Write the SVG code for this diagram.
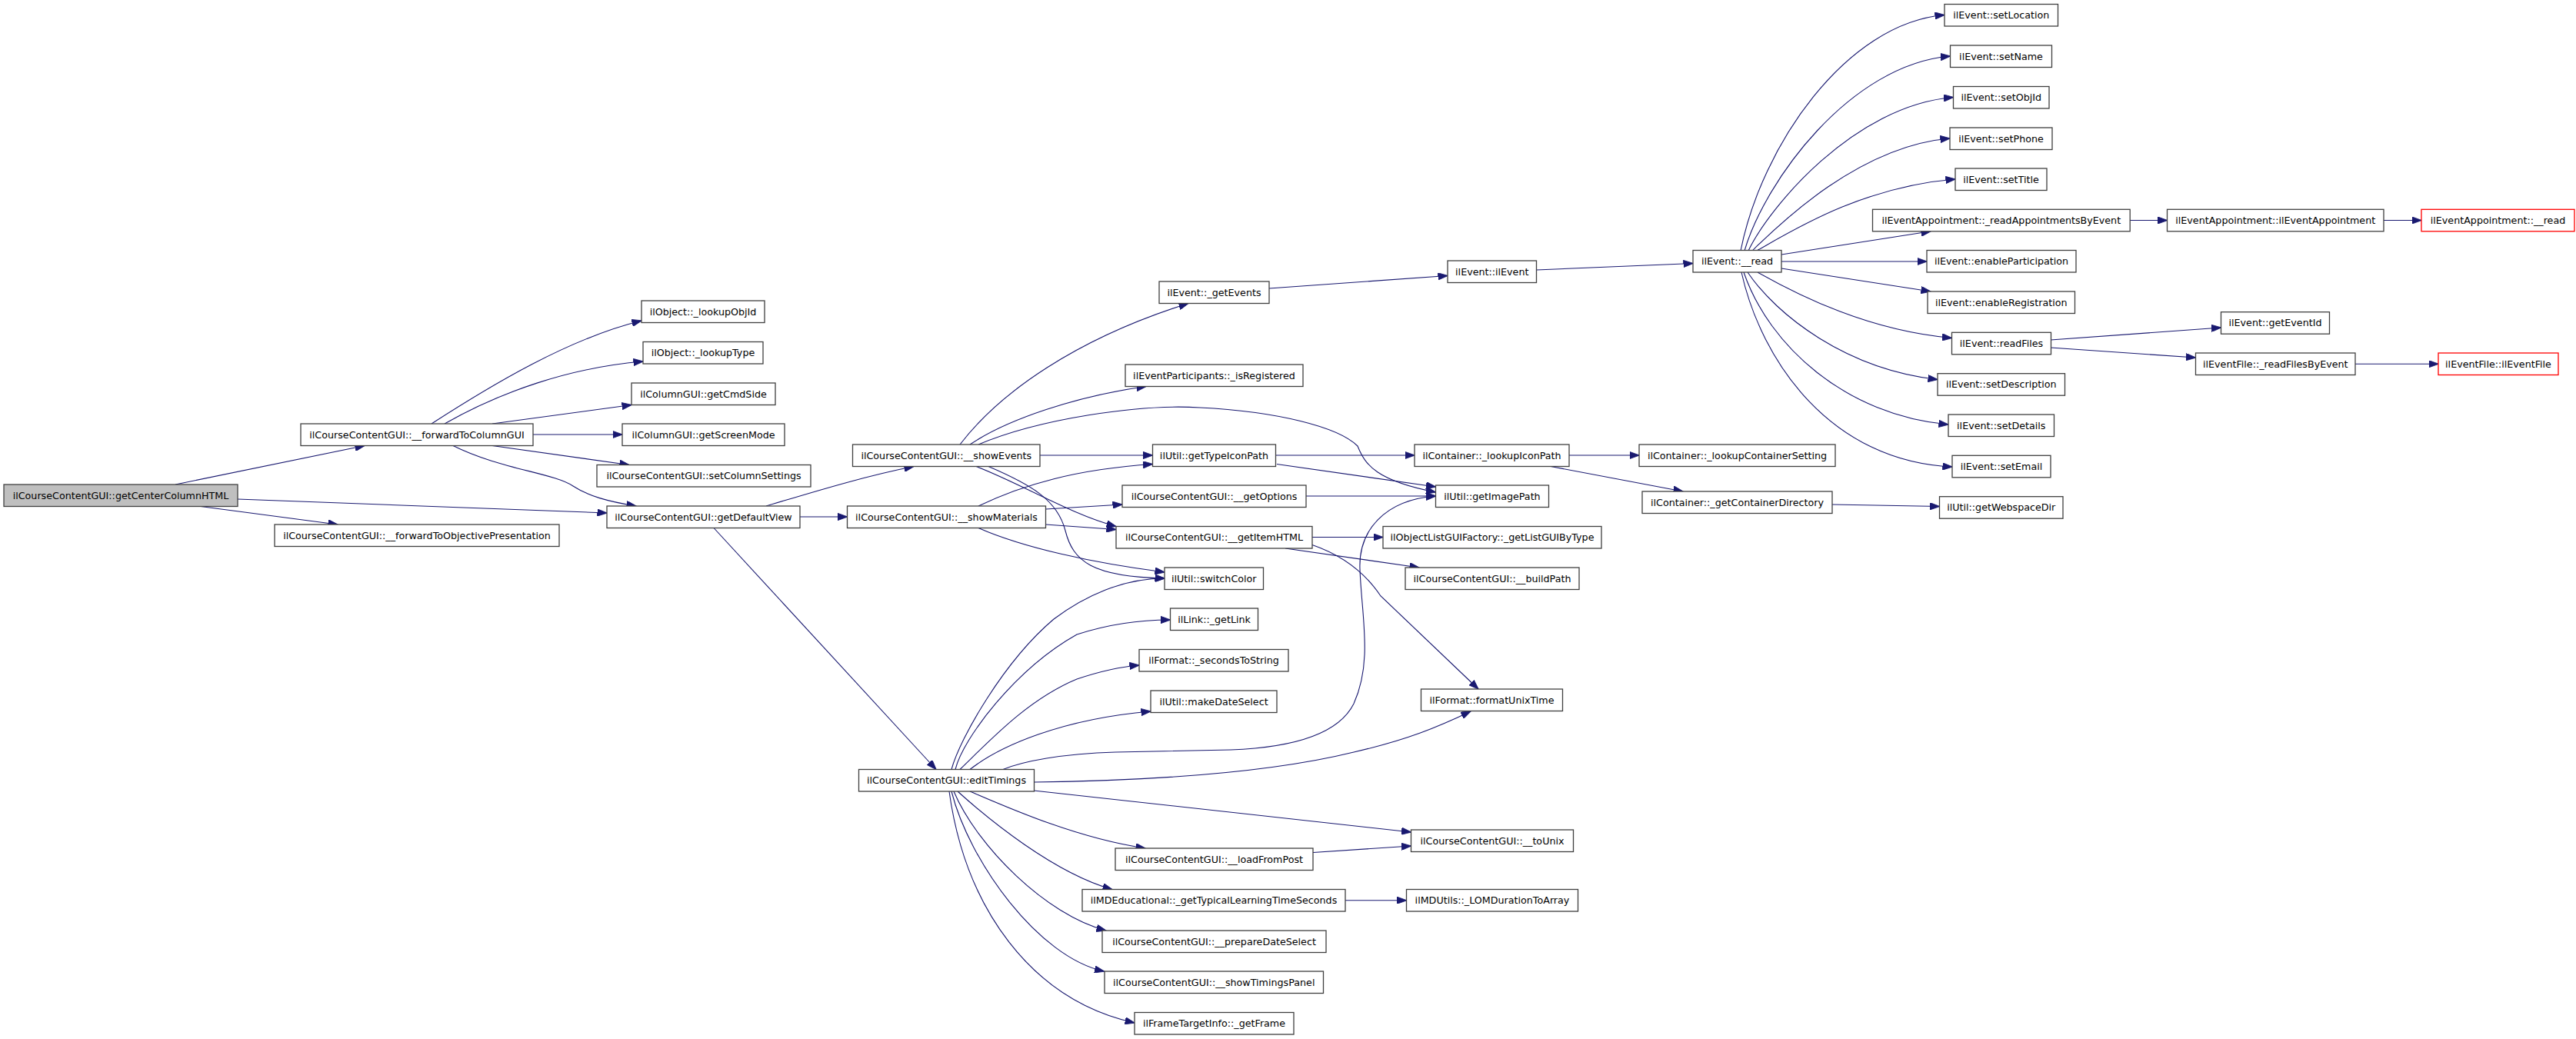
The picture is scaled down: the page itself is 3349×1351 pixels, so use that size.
<svg xmlns="http://www.w3.org/2000/svg" width="3349" height="1351" viewBox="0 0 3349 1351">
<defs>
<style>
.node rect{fill:#ffffff;stroke:#404040;stroke-width:1.3}
.node.root rect{fill:#bfbfbf}
.node.red rect{stroke:#ff0000}
.node text{font-family:"DejaVu Sans","Liberation Sans",sans-serif;font-size:12.7px;text-anchor:middle;fill:#000000}
.edges path{fill:none;stroke:#191970;stroke-width:1.1;marker-end:url(#arr)}
</style>
<marker id="arr" viewBox="0 0 13 9.4" refX="12.5" refY="4.7" markerWidth="13" markerHeight="9.4" markerUnits="userSpaceOnUse" orient="auto">
<path d="M0,0 L13,4.7 L0,9.4 Z" fill="#191970" stroke="#191970" stroke-width="0.8"/>
</marker>
</defs>
<rect width="3349" height="1351" fill="#ffffff"/>
<g id="edges" class="edges">
<path d="M228,630 L474,579.5"/>
<path d="M309,649 L789,667"/>
<path d="M261,658.5 L439,682"/>
<path d="M561,551 C640,500 740,440 834,417"/>
<path d="M578,551 C650,510 740,478 836,470"/>
<path d="M640,551 L821,526.5"/>
<path d="M693,565 L809,565"/>
<path d="M640,579.5 L818,604.5"/>
<path d="M589,579.5 C650,610 720,615 745,632 C765,645 790,652 827,658"/>
<path d="M996,658 C1050,642 1120,620 1188,606.5"/>
<path d="M1040,672 L1101.5,672"/>
<path d="M928,686.5 L1217,1000.5"/>
<path d="M1248,578 C1300,510 1400,440 1545,394.5"/>
<path d="M1261,578 C1310,545 1400,515 1490,502.5"/>
<path d="M1272,578 C1350,545 1480,525 1560,530 C1660,535 1740,555 1765,580 C1775,605 1790,625 1866.5,640"/>
<path d="M1352,592 L1498.5,592"/>
<path d="M1269,606.5 C1330,630 1390,668 1451,684.5"/>
<path d="M1285,606.5 C1340,630 1375,650 1385,690 C1395,730 1420,750 1514,752"/>
<path d="M1272,658 C1330,630 1400,610 1498.5,603.5"/>
<path d="M1359.5,662 L1459,656"/>
<path d="M1359.5,682 L1451,688.5"/>
<path d="M1272,686.5 C1330,712 1420,732 1514,744"/>
<path d="M1658.5,592 L1839,592"/>
<path d="M1660,603.5 L1866.5,633"/>
<path d="M1698,645 L1866.5,645"/>
<path d="M1706,698.5 L1798,698.5"/>
<path d="M1671,713 L1845,738"/>
<path d="M1706,708.5 C1745,722 1775,745 1795,775 L1922,896"/>
<path d="M2040,592 L2131,592"/>
<path d="M2016,606.5 L2188,639"/>
<path d="M2382,656 L2521.5,658.5"/>
<path d="M1237,1000.5 C1248,960 1305,860 1370,805 C1410,775 1460,752 1514,752"/>
<path d="M1242,1000.5 C1252,960 1320,870 1400,825 C1440,812 1480,806 1521.5,806"/>
<path d="M1248,1000.5 C1285,965 1335,910 1400,883 C1430,873 1455,867 1481,865"/>
<path d="M1261,1000.5 C1300,970 1380,935 1496,925"/>
<path d="M1304,1000.5 C1330,990 1380,980 1450,978 L1600,975 C1680,972 1740,955 1760,915 C1785,860 1770,800 1768,740 C1766,690 1800,650 1866.5,645"/>
<path d="M1344,1017 C1500,1015 1650,1005 1760,978 C1830,962 1870,945 1912,925"/>
<path d="M1344,1028 L1834.5,1082"/>
<path d="M1261,1029 C1310,1050 1400,1090 1489,1103"/>
<path d="M1245,1029 C1285,1065 1370,1135 1446,1156.5"/>
<path d="M1240,1029 C1270,1100 1360,1190 1438,1210"/>
<path d="M1237,1029 C1260,1120 1350,1245 1435.5,1263"/>
<path d="M1234,1029 C1255,1180 1340,1300 1475,1330"/>
<path d="M1707,1108.5 L1834.5,1100"/>
<path d="M1749,1170.75 L1828.5,1170.75"/>
<path d="M1650,375 L1882,358.5"/>
<path d="M1997.5,351 L2201,342.5"/>
<path d="M2263,326 C2290,190 2400,30 2528,19.5"/>
<path d="M2268,326 C2295,235 2405,84 2535.5,73"/>
<path d="M2273,326 C2300,270 2410,137 2539.5,126.5"/>
<path d="M2278,326 C2310,295 2415,190 2535,180"/>
<path d="M2284,326 C2330,300 2420,243 2542,233"/>
<path d="M2316,331 L2510,300.8"/>
<path d="M2316,340 L2505,340"/>
<path d="M2316,349 L2510,379"/>
<path d="M2285,354 C2340,385 2430,430 2537.5,439.5"/>
<path d="M2272,354 C2310,410 2400,480 2519,493.5"/>
<path d="M2267,354 C2300,450 2400,540 2533,552"/>
<path d="M2264,354 C2290,470 2380,600 2538,607"/>
<path d="M2769,286.5 L2817.5,286.5"/>
<path d="M3099,286.5 L3148,286.5"/>
<path d="M2666,442 L2887.5,426"/>
<path d="M2666,452 L2854.5,465"/>
<path d="M3062,473.25 L3170,473.25"/>
</g>
<g id="n0" class="node root"><rect x="5" y="630" width="304" height="28.5"/><text x="157" y="648.75">ilCourseContentGUI::getCenterColumnHTML</text></g>
<g id="n1" class="node"><rect x="391" y="551" width="302" height="28.5"/><text x="542" y="569.75">ilCourseContentGUI::__forwardToColumnGUI</text></g>
<g id="n2" class="node"><rect x="357" y="682" width="370" height="28.5"/><text x="542" y="700.75">ilCourseContentGUI::__forwardToObjectivePresentation</text></g>
<g id="n3" class="node"><rect x="834" y="391" width="160" height="28.5"/><text x="914" y="409.75">ilObject::_lookupObjId</text></g>
<g id="n4" class="node"><rect x="836" y="444.5" width="156" height="28.5"/><text x="914" y="463.25">ilObject::_lookupType</text></g>
<g id="n5" class="node"><rect x="821" y="498" width="187" height="28.5"/><text x="914.5" y="516.75">ilColumnGUI::getCmdSide</text></g>
<g id="n6" class="node"><rect x="809" y="551" width="211" height="28.5"/><text x="914.5" y="569.75">ilColumnGUI::getScreenMode</text></g>
<g id="n7" class="node"><rect x="776" y="604.5" width="278" height="28.5"/><text x="915" y="623.25">ilCourseContentGUI::setColumnSettings</text></g>
<g id="n8" class="node"><rect x="789" y="658" width="251" height="28.5"/><text x="914.5" y="676.75">ilCourseContentGUI::getDefaultView</text></g>
<g id="n9" class="node"><rect x="1108.5" y="578" width="243.5" height="28.5"/><text x="1230.25" y="596.75">ilCourseContentGUI::__showEvents</text></g>
<g id="n10" class="node"><rect x="1101.5" y="658" width="258" height="28.5"/><text x="1230.5" y="676.75">ilCourseContentGUI::__showMaterials</text></g>
<g id="n11" class="node"><rect x="1116.5" y="1000.5" width="228" height="28.5"/><text x="1230.5" y="1019.25">ilCourseContentGUI::editTimings</text></g>
<g id="n12" class="node"><rect x="1507" y="366" width="143" height="28.5"/><text x="1578.5" y="384.75">ilEvent::_getEvents</text></g>
<g id="n13" class="node"><rect x="1463" y="474" width="231" height="28.5"/><text x="1578.5" y="492.75">ilEventParticipants::_isRegistered</text></g>
<g id="n14" class="node"><rect x="1498.5" y="578" width="160" height="28.5"/><text x="1578.5" y="596.75">ilUtil::getTypeIconPath</text></g>
<g id="n15" class="node"><rect x="1459" y="631" width="239" height="28.5"/><text x="1578.5" y="649.75">ilCourseContentGUI::__getOptions</text></g>
<g id="n16" class="node"><rect x="1451" y="684.5" width="255" height="28.5"/><text x="1578.5" y="703.25">ilCourseContentGUI::__getItemHTML</text></g>
<g id="n17" class="node"><rect x="1514" y="738" width="128.5" height="28.5"/><text x="1578.25" y="756.75">ilUtil::switchColor</text></g>
<g id="n18" class="node"><rect x="1521.5" y="791" width="114" height="28.5"/><text x="1578.5" y="809.75">ilLink::_getLink</text></g>
<g id="n19" class="node"><rect x="1481" y="844.5" width="194" height="28.5"/><text x="1578" y="863.25">ilFormat::_secondsToString</text></g>
<g id="n20" class="node"><rect x="1496" y="898" width="164" height="28.5"/><text x="1578" y="916.75">ilUtil::makeDateSelect</text></g>
<g id="n21" class="node"><rect x="1450" y="1103" width="257" height="28.5"/><text x="1578.5" y="1121.75">ilCourseContentGUI::__loadFromPost</text></g>
<g id="n22" class="node"><rect x="1407" y="1156.5" width="342" height="28.5"/><text x="1578" y="1175.25">ilMDEducational::_getTypicalLearningTimeSeconds</text></g>
<g id="n23" class="node"><rect x="1433" y="1210" width="291" height="28.5"/><text x="1578.5" y="1228.75">ilCourseContentGUI::__prepareDateSelect</text></g>
<g id="n24" class="node"><rect x="1436" y="1263" width="284.5" height="28.5"/><text x="1578.25" y="1281.75">ilCourseContentGUI::__showTimingsPanel</text></g>
<g id="n25" class="node"><rect x="1475" y="1316.5" width="207" height="28.5"/><text x="1578.5" y="1335.25">ilFrameTargetInfo::_getFrame</text></g>
<g id="n26" class="node"><rect x="1882" y="339" width="115.5" height="28.5"/><text x="1939.75" y="357.75">ilEvent::ilEvent</text></g>
<g id="n27" class="node"><rect x="1839" y="578" width="201" height="28.5"/><text x="1939.5" y="596.75">ilContainer::_lookupIconPath</text></g>
<g id="n28" class="node"><rect x="1866.5" y="631" width="147" height="28.5"/><text x="1940" y="649.75">ilUtil::getImagePath</text></g>
<g id="n29" class="node"><rect x="1798" y="684.5" width="284" height="28.5"/><text x="1940" y="703.25">ilObjectListGUIFactory::_getListGUIByType</text></g>
<g id="n30" class="node"><rect x="1827" y="738" width="226" height="28.5"/><text x="1940" y="756.75">ilCourseContentGUI::__buildPath</text></g>
<g id="n31" class="node"><rect x="1847.5" y="896" width="184" height="28.5"/><text x="1939.5" y="914.75">ilFormat::formatUnixTime</text></g>
<g id="n32" class="node"><rect x="1834.5" y="1079" width="211" height="28.5"/><text x="1940" y="1097.75">ilCourseContentGUI::__toUnix</text></g>
<g id="n33" class="node"><rect x="1828.5" y="1156.5" width="223" height="28.5"/><text x="1940" y="1175.25">ilMDUtils::_LOMDurationToArray</text></g>
<g id="n34" class="node"><rect x="2201" y="325.5" width="115" height="28.5"/><text x="2258.5" y="344.25">ilEvent::__read</text></g>
<g id="n35" class="node"><rect x="2131" y="578" width="255" height="28.5"/><text x="2258.5" y="596.75">ilContainer::_lookupContainerSetting</text></g>
<g id="n36" class="node"><rect x="2135" y="639" width="247" height="28.5"/><text x="2258.5" y="657.75">ilContainer::_getContainerDirectory</text></g>
<g id="n37" class="node"><rect x="2528" y="5.5" width="147.5" height="28.5"/><text x="2601.75" y="24.25">ilEvent::setLocation</text></g>
<g id="n38" class="node"><rect x="2535.5" y="59" width="132" height="28.5"/><text x="2601.5" y="77.75">ilEvent::setName</text></g>
<g id="n39" class="node"><rect x="2539.5" y="112.5" width="124.5" height="28.5"/><text x="2601.75" y="131.25">ilEvent::setObjId</text></g>
<g id="n40" class="node"><rect x="2535" y="166" width="133" height="28.5"/><text x="2601.5" y="184.75">ilEvent::setPhone</text></g>
<g id="n41" class="node"><rect x="2542" y="219" width="119" height="28.5"/><text x="2601.5" y="237.75">ilEvent::setTitle</text></g>
<g id="n42" class="node"><rect x="2434.5" y="272.3" width="334.7" height="28.5"/><text x="2601.85" y="291.05">ilEventAppointment::_readAppointmentsByEvent</text></g>
<g id="n43" class="node"><rect x="2505" y="325.5" width="194" height="28.5"/><text x="2602" y="344.25">ilEvent::enableParticipation</text></g>
<g id="n44" class="node"><rect x="2506" y="379" width="191.5" height="28.5"/><text x="2601.75" y="397.75">ilEvent::enableRegistration</text></g>
<g id="n45" class="node"><rect x="2537.5" y="432.3" width="129" height="28.5"/><text x="2602" y="451.05">ilEvent::readFiles</text></g>
<g id="n46" class="node"><rect x="2519" y="485.7" width="165.5" height="28.5"/><text x="2601.75" y="504.45">ilEvent::setDescription</text></g>
<g id="n47" class="node"><rect x="2533" y="539" width="137.5" height="28.5"/><text x="2601.75" y="557.75">ilEvent::setDetails</text></g>
<g id="n48" class="node"><rect x="2538" y="592.3" width="128" height="28.5"/><text x="2602" y="611.05">ilEvent::setEmail</text></g>
<g id="n49" class="node"><rect x="2817.5" y="272.3" width="281.5" height="28.5"/><text x="2958.25" y="291.05">ilEventAppointment::ilEventAppointment</text></g>
<g id="n50" class="node red"><rect x="3148" y="272.3" width="199" height="28.5"/><text x="3247.5" y="291.05">ilEventAppointment::__read</text></g>
<g id="n51" class="node"><rect x="2887.5" y="405.7" width="141" height="28.5"/><text x="2958" y="424.45">ilEvent::getEventId</text></g>
<g id="n52" class="node"><rect x="2854.5" y="459" width="207.5" height="28.5"/><text x="2958.25" y="477.75">ilEventFile::_readFilesByEvent</text></g>
<g id="n53" class="node red"><rect x="3170" y="459" width="156" height="28.5"/><text x="3248" y="477.75">ilEventFile::ilEventFile</text></g>
<g id="n54" class="node"><rect x="2521.5" y="645.7" width="160.5" height="28.5"/><text x="2601.75" y="664.45">ilUtil::getWebspaceDir</text></g>
</svg>
